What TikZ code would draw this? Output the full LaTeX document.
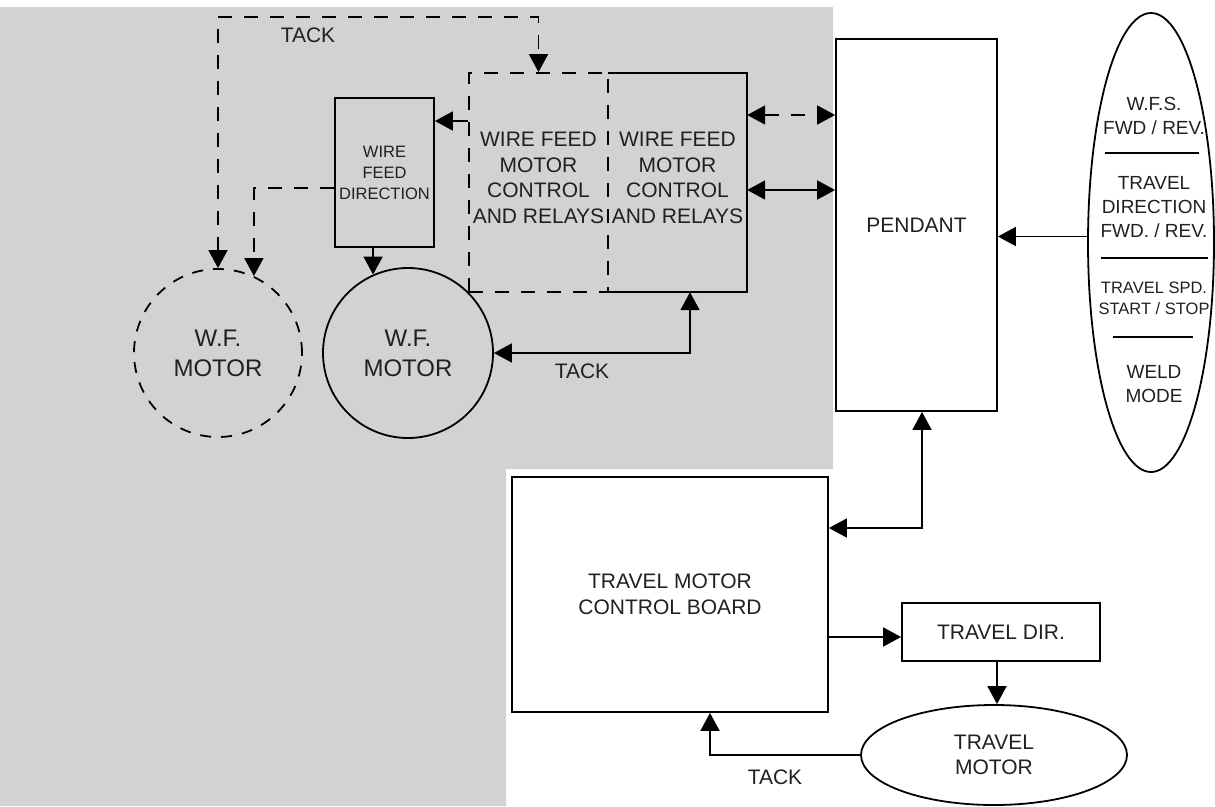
\documentclass[tikz,border=0pt]{standalone}
\usepackage{fontspec}
\setmainfont{Liberation Sans}
\usetikzlibrary{arrows.meta,shapes.geometric}
\definecolor{bggrey}{HTML}{D1D2D4}
\definecolor{ink}{HTML}{000000}
\definecolor{txtcol}{HTML}{231F20}
\begin{document}
\begin{tikzpicture}[x=1pt,y=1pt,
  ln/.style={line width=1.8pt,draw=ink},
  dsh/.style={ln,dash pattern=on 14pt off 12pt},
  box/.style={draw,ln,rectangle,inner sep=0pt,align=center},
  txtA/.style={font=\fontsize{21}{25.5}\selectfont,align=center,inner sep=0pt,text=txtcol},
  txtB/.style={font=\fontsize{16.5}{21}\selectfont,align=center,inner sep=0pt,text=txtcol},
  txtC/.style={font=\fontsize{19}{24}\selectfont,align=center,inner sep=0pt,text=txtcol},
  txtM/.style={font=\fontsize{24}{30}\selectfont,align=center,inner sep=0pt,text=txtcol},
  tp/.style={-{Triangle[length=18pt,width=19pt]}},
  tpb/.style={{Triangle[length=18pt,width=19pt]}-{Triangle[length=18pt,width=19pt]}}
]
\useasboundingbox (0,0) rectangle (1215,-806);
% grey background
\fill[bggrey] (0,-7) -- (833,-7) -- (833,-469) -- (506,-469) -- (506,-806) -- (0,-806) -- cycle;

% nodes
\node[box,minimum width=161,minimum height=372,txtA] (pend) at (916.5,-225) {PENDANT};
\node[draw,ln,dash pattern=on 14pt off 12pt,rectangle,minimum width=139,minimum height=219,inner sep=0pt] (ctrld) at (538.5,-182.5) {};
\node[txtA] (ctrldt) at (538.5,-178) {WIRE FEED\\MOTOR\\CONTROL\\AND RELAYS};
\node[rectangle,minimum width=139,minimum height=219,inner sep=0pt] (ctrl) at (677.5,-182.5) {};
\draw[ln] (ctrl.north west) -- (ctrl.north east) -- (ctrl.south east) -- (ctrl.south west);
\node[txtA] (ctrlt) at (677.5,-178) {WIRE FEED\\MOTOR\\CONTROL\\AND RELAYS};
\node[box,minimum width=99,minimum height=149,txtB] (wfd) at (384.5,-172.5) {WIRE\\FEED\\DIRECTION};
\node[draw,ln,circle,minimum size=170,inner sep=0pt,txtM] (wfm) at (408,-353) {W.F.\\MOTOR};
\node[draw,ln,dash pattern=on 11pt off 10pt,circle,minimum size=168,inner sep=0pt,txtM] (wfmd) at (218,-353) {W.F.\\MOTOR};
\node[box,minimum width=316,minimum height=235,txtA] (tmcb) at (670,-594.5) {TRAVEL MOTOR\\CONTROL BOARD};
\node[box,minimum width=198,minimum height=58,txtA] (tdir) at (1001,-632) {TRAVEL DIR.};
\node[draw,ln,ellipse,minimum width=266,minimum height=100,inner sep=0pt,txtA] (tmot) at (994,-755) {TRAVEL\\MOTOR};
\node[draw,ln,ellipse,minimum width=126,minimum height=459,inner sep=0pt] (pendel) at (1151,-242.5) {};

% ellipse contents
\node[txtC] (e1) at (1154,-116) {W.F.S.\\FWD / REV.};
\draw[ln] (1105,-153) -- (1199,-153);
\node[txtC] (e2) at (1154,-207) {TRAVEL\\DIRECTION\\FWD. / REV.};
\draw[ln] (1101,-258) -- (1208,-258);
\node[txtB] (e3) at (1154,-298) {TRAVEL SPD.\\START / STOP};
\draw[ln] (1113,-337) -- (1193,-337);
\node[txtC] (e4) at (1154,-384) {WELD\\MODE};

% connectors
\draw[dsh,tpb] ([yshift=67.5pt]ctrl.east) -- ([yshift=67.5pt]ctrl.east -| pend.west);
\draw[ln,tpb] ([yshift=-7.5pt]ctrl.east) -- ([yshift=-7.5pt]ctrl.east -| pend.west);
\draw[ln,tp] ([yshift=6pt]pendel.west) -- ([yshift=6pt]pendel.west -| pend.east);
\draw[ln,tp] ([yshift=61.5pt]ctrld.west) -- ([yshift=61.5pt]ctrld.west -| wfd.east);
\draw[ln,tp] (wfm.114 |- wfd.south) -- (wfm.114);
\coordinate (tacktop) at (0,-17);
\draw[dsh,tpb] (wfmd.north) |- (tacktop -| ctrld.north) -- (ctrld.north);
\node[txtA] (tack1) at (308,-35) {TACK};
\draw[dsh,tp] ([yshift=-15.5pt]wfd.west) -| (wfmd.65);
\draw[ln,tpb] (wfm.east) -| ([xshift=12.5pt]ctrl.south);
\node[txtA] (tack2) at (582,-371) {TACK};
\draw[ln,tpb] ([xshift=5.5pt]pend.south) |- ([yshift=66.5pt]tmcb.east);
\draw[ln,tp] ([yshift=-5pt]tdir.west -| tmcb.east) -- ([yshift=-5pt]tdir.west);
\draw[ln,tp] ([xshift=-4pt]tdir.south) -- ([xshift=-4pt]tdir.south |- tmot.north);
\draw[ln,tp] (tmot.west) -| ([xshift=40pt]tmcb.south);
\node[txtA] (tack3) at (775,-777) {TACK};
\end{tikzpicture}
\end{document}
